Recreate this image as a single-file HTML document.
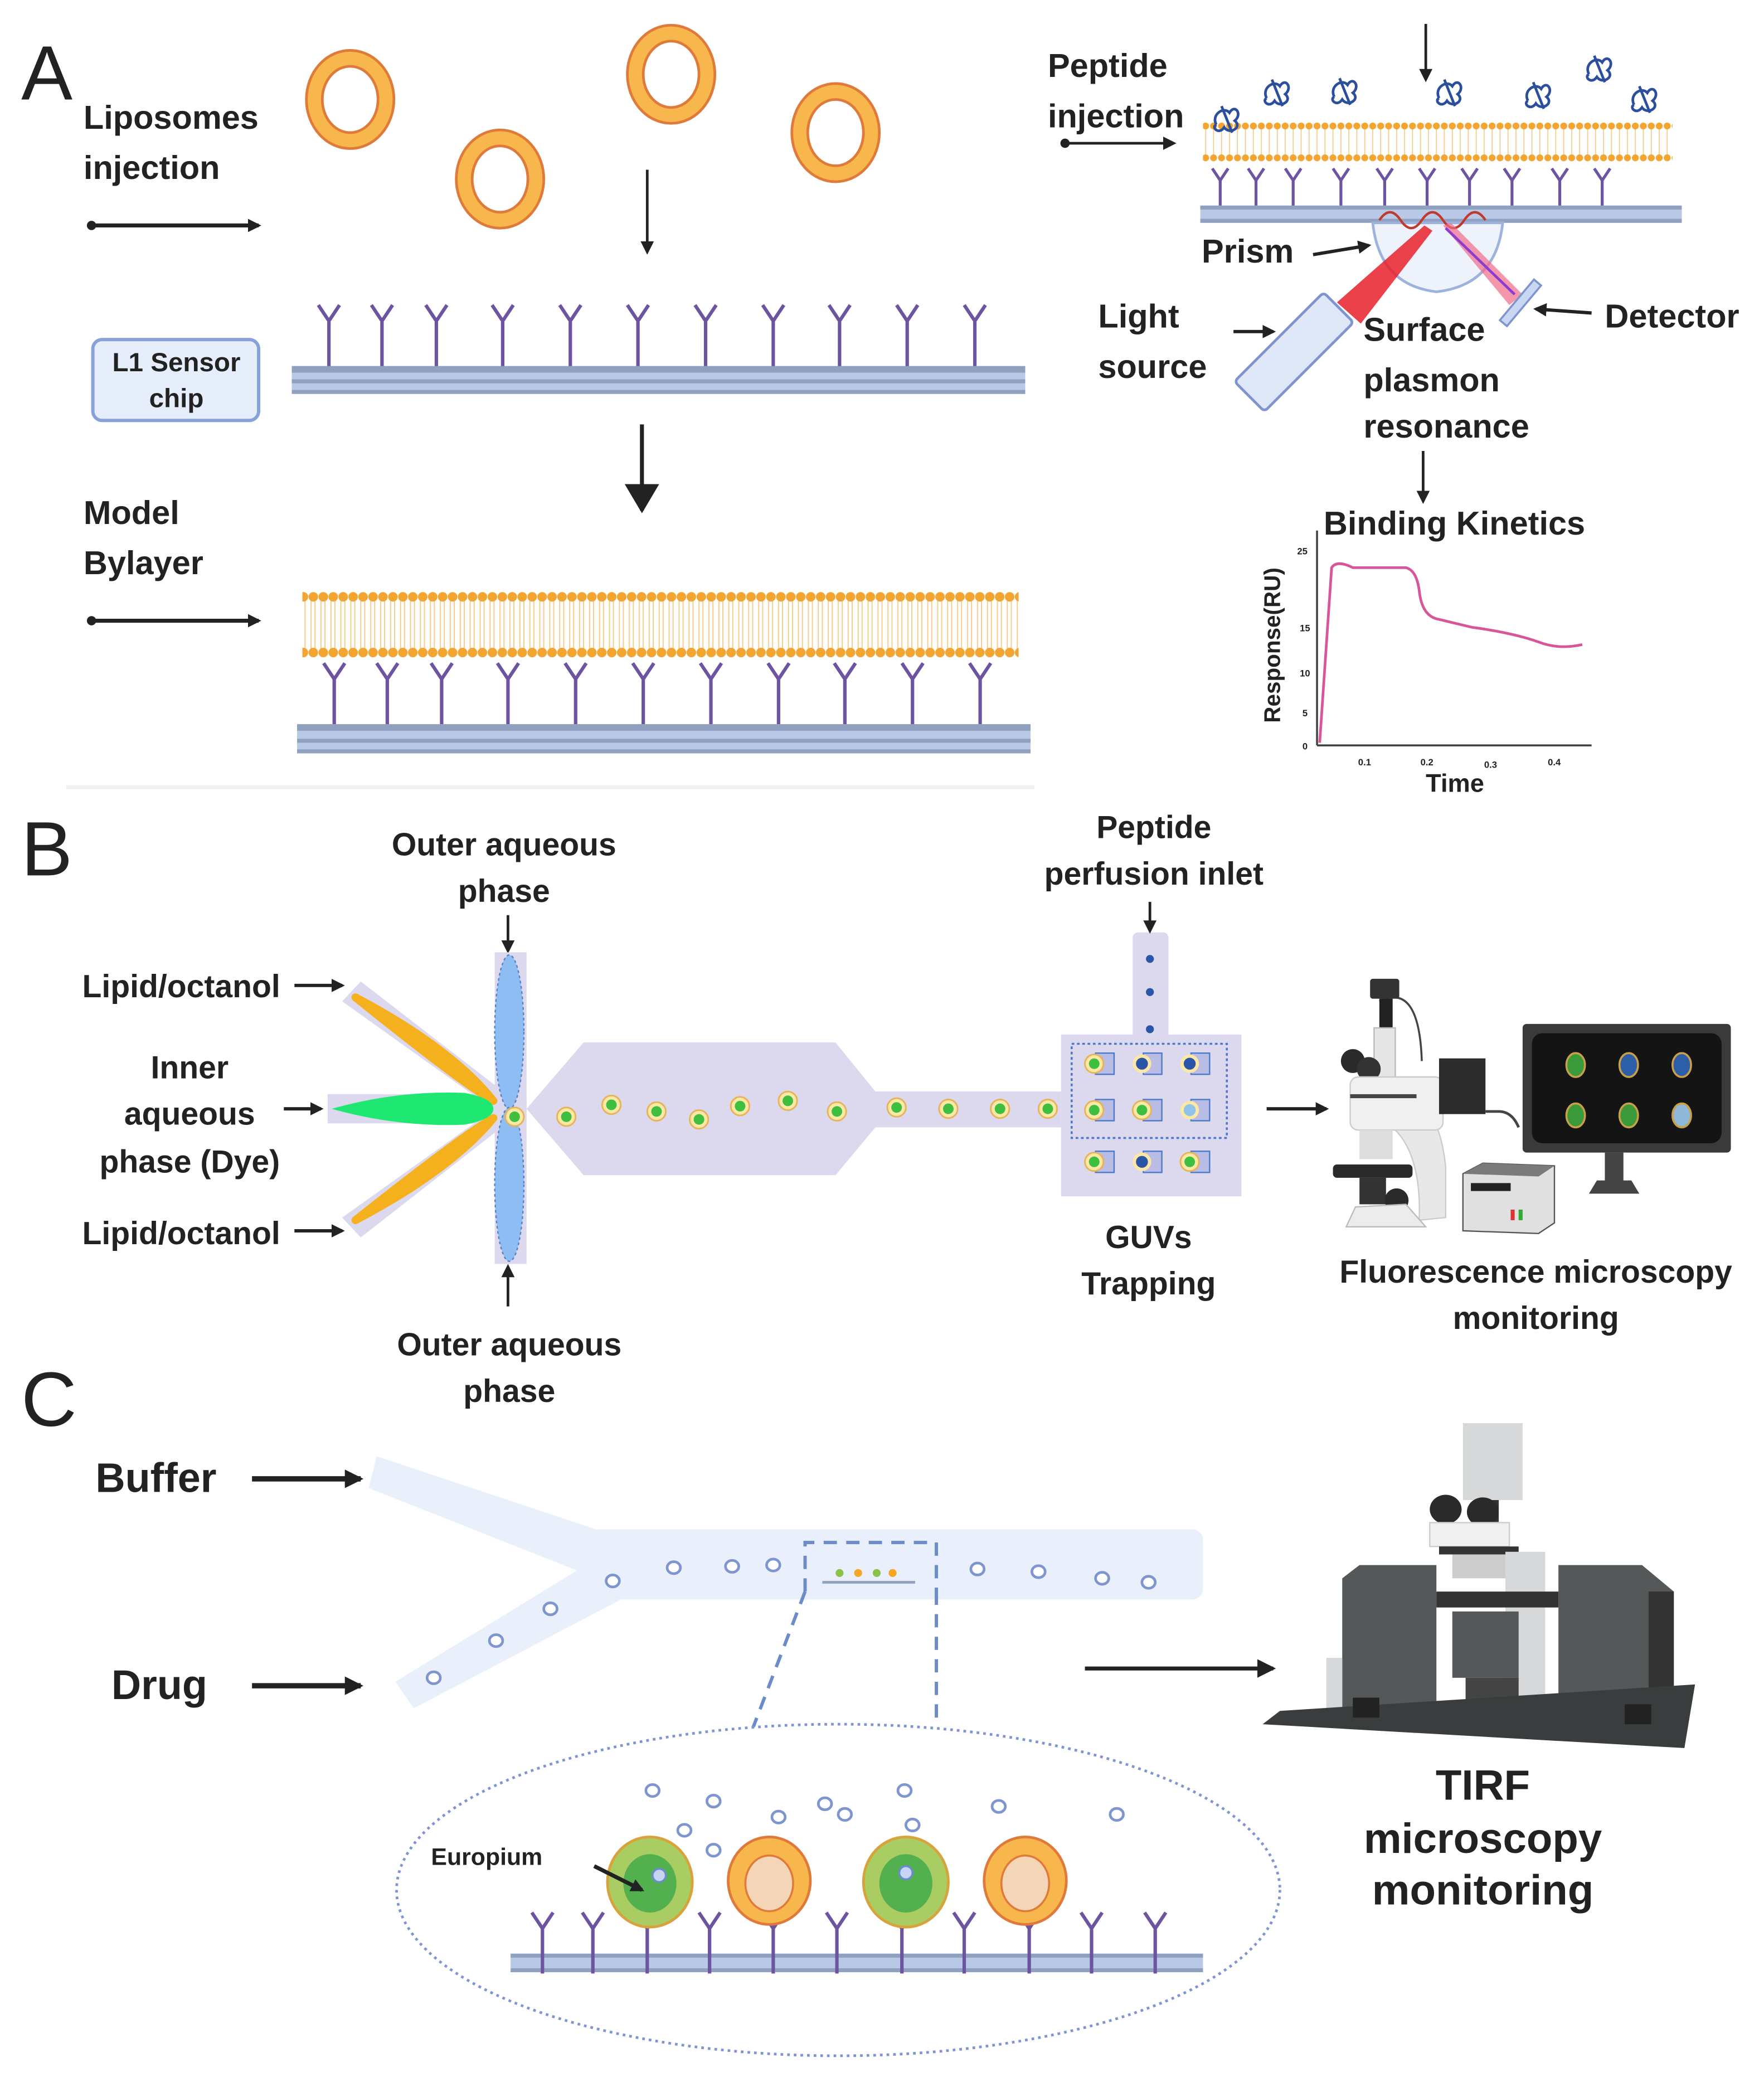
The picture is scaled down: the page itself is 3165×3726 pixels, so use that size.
<!DOCTYPE html>
<html><head><meta charset="utf-8"><style>
html,body{margin:0;padding:0;background:#fff}
svg{display:block}
text{font-family:"Liberation Sans",sans-serif;font-weight:bold;fill:#222}
</style></head><body>
<svg width="3165" height="3726" viewBox="0 0 1330 1566" preserveAspectRatio="none" xmlns="http://www.w3.org/2000/svg">
<defs>
<marker id="ah" markerWidth="10" markerHeight="10" refX="8" refY="5" orient="auto" markerUnits="userSpaceOnUse"><path d="M0,0 L10,5 L0,10 z" fill="#222"/></marker>
<marker id="ah2" markerWidth="14" markerHeight="14" refX="12" refY="7" orient="auto" markerUnits="userSpaceOnUse"><path d="M0,0 L14,7 L0,14 z" fill="#222"/></marker>
<marker id="ahb" markerWidth="22" markerHeight="26" refX="20" refY="13" orient="auto" markerUnits="userSpaceOnUse"><path d="M0,0 L22,13 L0,26 z" fill="#222"/></marker>
<marker id="dot" markerWidth="8" markerHeight="8" refX="4" refY="4" markerUnits="userSpaceOnUse"><circle cx="4" cy="4" r="3.5" fill="#222"/></marker>
<pattern id="lip" x="0" y="445" width="7.5" height="52" patternUnits="userSpaceOnUse">
<line x1="2" y1="6" x2="2" y2="46" stroke="#f5c98a" stroke-width="0.8"/><line x1="5" y1="6" x2="5" y2="46" stroke="#f5c98a" stroke-width="0.8"/>
<circle cx="3.75" cy="5" r="3.6" fill="#f2a531"/><circle cx="3.75" cy="47" r="3.6" fill="#f2a531"/></pattern>
<pattern id="lip2" x="0" y="92" width="6" height="30" patternUnits="userSpaceOnUse">
<line x1="3" y1="4" x2="3" y2="26" stroke="#f5c98a" stroke-width="0.7"/>
<circle cx="3" cy="3" r="2.6" fill="#f2a531"/><circle cx="3" cy="27" r="2.6" fill="#f2a531"/></pattern>
<g id="ab"><path d="M0,12 L0,46 M-8,0 L0,12 L8,0" stroke="#6d54a0" stroke-width="2.6" fill="none"/></g>
<g id="ab2"><path d="M0,9 L0,29 M-6,0 L0,9 L6,0" stroke="#6d54a0" stroke-width="2.2" fill="none"/></g>
<g id="ring"><ellipse cx="0" cy="0" rx="33" ry="37" fill="#f7b74d" stroke="#e07a3a" stroke-width="2"/><ellipse cx="0" cy="0" rx="21" ry="25" fill="#fff" stroke="#e07a3a" stroke-width="2"/></g>
<g id="guv"><circle r="7" fill="#fbe7a6" stroke="#e6b455" stroke-width="1.2"/><circle r="4" fill="#3fbf3f"/></g>
<g id="sc"><ellipse rx="5" ry="4.5" fill="#fff" stroke="#7f95d0" stroke-width="2"/></g>
<g id="pep"><path d="M-8,6 C-12,-2 -2,-8 2,-3 C6,-10 12,-2 6,3 C12,8 2,14 -2,8 C-6,14 -12,8 -8,6 M-4,-8 L4,12" stroke="#2b4f9c" stroke-width="2" fill="none"/></g>
</defs>

<!-- ========== PANEL A ========== -->
<text x="16" y="75" style="font-weight:normal;font-size:58px">A</text>
<text x="63" y="97" font-size="25">Liposomes</text>
<text x="63" y="135" font-size="25">injection</text>
<line x1="69" y1="170" x2="195" y2="170" stroke="#222" stroke-width="3" marker-start="url(#dot)" marker-end="url(#ah)"/>
<use href="#ring" x="264" y="75"/><use href="#ring" x="377" y="135"/><use href="#ring" x="506" y="56"/><use href="#ring" x="630" y="100"/>
<line x1="488" y1="128" x2="488" y2="190" stroke="#222" stroke-width="2" marker-end="url(#ah)"/>
<rect x="70" y="256" width="125" height="61" rx="7" fill="#e6eefb" stroke="#86a2d8" stroke-width="2.5"/>
<text x="133" y="280" font-size="20" text-anchor="middle">L1 Sensor</text>
<text x="133" y="307" font-size="20" text-anchor="middle">chip</text>
<rect x="220" y="276" width="553" height="21" fill="#b8c8e6"/><rect x="220" y="276" width="553" height="5" fill="#8fa1bf"/><rect x="220" y="286" width="553" height="3" fill="#8fa1bf"/><rect x="220" y="294" width="553" height="3" fill="#8fa1bf"/>
<g transform="translate(0,230)"><use href="#ab" x="248"/><use href="#ab" x="288"/><use href="#ab" x="329"/><use href="#ab" x="379"/><use href="#ab" x="430"/><use href="#ab" x="481"/><use href="#ab" x="532"/><use href="#ab" x="583"/><use href="#ab" x="633"/><use href="#ab" x="684"/><use href="#ab" x="735"/></g>
<line x1="484" y1="320" x2="484" y2="385" stroke="#222" stroke-width="3" marker-end="url(#ahb)"/>
<text x="63" y="395" font-size="25">Model</text>
<text x="63" y="433" font-size="25">Bylayer</text>
<line x1="69" y1="468" x2="195" y2="468" stroke="#222" stroke-width="3" marker-start="url(#dot)" marker-end="url(#ah)"/>
<rect x="228" y="445" width="540" height="52" fill="url(#lip)"/>
<g transform="translate(0,500)"><use href="#ab" x="252"/><use href="#ab" x="292"/><use href="#ab" x="333"/><use href="#ab" x="383"/><use href="#ab" x="434"/><use href="#ab" x="485"/><use href="#ab" x="536"/><use href="#ab" x="587"/><use href="#ab" x="637"/><use href="#ab" x="688"/><use href="#ab" x="739"/></g>
<rect x="224" y="546" width="553" height="22" fill="#b8c8e6"/><rect x="224" y="546" width="553" height="5" fill="#8fa1bf"/><rect x="224" y="557" width="553" height="3" fill="#8fa1bf"/><rect x="224" y="565" width="553" height="3" fill="#8fa1bf"/>
<rect x="50" y="592" width="730" height="3" fill="#f0f0f0"/>

<!-- SPR -->
<text x="790" y="58" font-size="25">Peptide</text>
<text x="790" y="96" font-size="25">injection</text>
<line x1="803" y1="108" x2="885" y2="108" stroke="#222" stroke-width="2" marker-start="url(#dot)" marker-end="url(#ah)"/>
<line x1="1075" y1="18" x2="1075" y2="60" stroke="#222" stroke-width="2" marker-end="url(#ah)"/>
<rect x="907" y="92" width="354" height="30" fill="url(#lip2)"/>
<use href="#pep" x="925" y="88"/><use href="#pep" x="963" y="68"/><use href="#pep" x="1014" y="67"/><use href="#pep" x="1093" y="68"/><use href="#pep" x="1160" y="70"/><use href="#pep" x="1206" y="50"/><use href="#pep" x="1240" y="73"/>
<g transform="translate(0,127)"><use href="#ab2" x="920"/><use href="#ab2" x="947"/><use href="#ab2" x="975"/><use href="#ab2" x="1011"/><use href="#ab2" x="1044"/><use href="#ab2" x="1076"/><use href="#ab2" x="1108"/><use href="#ab2" x="1140"/><use href="#ab2" x="1176"/><use href="#ab2" x="1208"/></g>
<rect x="905" y="155" width="363" height="13" fill="#b8c8e6"/><rect x="905" y="155" width="363" height="3" fill="#8fa1bf"/><rect x="905" y="165" width="363" height="3" fill="#8fa1bf"/>
<path d="M1035,168 Q1040,215 1083,220 Q1128,215 1133,168 Z" fill="#eef3fb" stroke="#9db3de" stroke-width="2"/>
<path d="M1040,166 q8,-12 16,0 q8,12 16,0 q8,-12 16,0 q8,12 16,0 q8,-12 16,0" stroke="#c0392b" stroke-width="1.8" fill="none"/>
<polygon points="1008,228 1026,244 1080,174 1074,170" fill="#e8202a" opacity="0.85"/>
<polygon points="1088,170 1094,168 1148,222 1138,230" fill="#f06b8a" opacity="0.7"/>
<line x1="1090" y1="172" x2="1142" y2="222" stroke="#8e3bd0" stroke-width="2"/>
<rect x="1143" y="208" width="7" height="40" fill="#c9d7f2" stroke="#7f95d0" stroke-width="1.5" transform="rotate(40 1146 228)"/>
<rect x="960" y="218" width="32" height="95" rx="3" fill="#dfe8f8" stroke="#7f95d0" stroke-width="2" transform="rotate(45 976 265)"/>
<text x="906" y="198" font-size="25">Prism</text>
<line x1="990" y1="192" x2="1032" y2="185" stroke="#222" stroke-width="2.5" marker-end="url(#ah)"/>
<text x="828" y="247" font-size="25">Light</text>
<text x="828" y="285" font-size="25">source</text>
<line x1="930" y1="250" x2="960" y2="250" stroke="#222" stroke-width="2.5" marker-end="url(#ah)"/>
<text x="1210" y="247" font-size="25">Detector</text>
<line x1="1200" y1="236" x2="1158" y2="233" stroke="#222" stroke-width="2.5" marker-end="url(#ah)"/>
<text x="1028" y="257" font-size="25">Surface</text>
<text x="1028" y="295" font-size="25">plasmon</text>
<text x="1028" y="330" font-size="25">resonance</text>
<line x1="1073" y1="340" x2="1073" y2="378" stroke="#222" stroke-width="2" marker-end="url(#ah)"/>
<text x="998" y="403" font-size="25">Binding Kinetics</text>
<line x1="993" y1="400" x2="993" y2="562" stroke="#444" stroke-width="1.5"/>
<line x1="993" y1="562" x2="1200" y2="562" stroke="#444" stroke-width="1.5"/>
<path d="M995,560 L1004,428 Q1008,422 1020,428 L1060,428 Q1068,430 1070,445 Q1072,465 1085,467 L1110,473 Q1140,477 1160,484 Q1175,490 1193,486" stroke="#d9559a" stroke-width="2" fill="none"/>
<text x="965" y="545" font-size="17" transform="rotate(-90 965 545)">Response(RU)</text>
<text x="1075" y="597" font-size="19">Time</text>
<g style="font-size:7px;font-weight:normal" fill="#444"><text x="978" y="418">25</text><text x="980" y="476">15</text><text x="980" y="510">10</text><text x="982" y="540">5</text><text x="982" y="565">0</text><text x="1024" y="577">0.1</text><text x="1071" y="577">0.2</text><text x="1119" y="579">0.3</text><text x="1167" y="577">0.4</text></g>

<!-- ========== PANEL B ========== -->
<text x="16" y="660" style="font-weight:normal;font-size:58px">B</text>
<text x="380" y="645" font-size="24" text-anchor="middle">Outer aqueous</text>
<text x="380" y="680" font-size="24" text-anchor="middle">phase</text>
<line x1="383" y1="690" x2="383" y2="717" stroke="#222" stroke-width="2" marker-end="url(#ah)"/>
<polygon points="258,755 272,740 382,825 370,835" fill="#dcd8ee"/>
<polygon points="258,918 272,933 382,847 370,838" fill="#dcd8ee"/>
<rect x="247" y="825" width="150" height="22" fill="#dcd8ee"/>
<rect x="373" y="718" width="24" height="235" fill="#dcd8ee"/>
<path d="M268,752 Q340,790 372,830 Q350,818 268,752 Z" fill="#f5b11d" stroke="#f5b11d" stroke-width="6" stroke-linejoin="round"/>
<path d="M268,920 Q340,882 372,843 Q350,855 268,920 Z" fill="#f5b11d" stroke="#f5b11d" stroke-width="6" stroke-linejoin="round"/>
<path d="M250,836 Q300,822 350,824 Q372,828 372,836 Q372,844 350,848 Q300,850 250,836 Z" fill="#1ee872"/>
<ellipse cx="384" cy="778" rx="11" ry="58" fill="#8dbdf2" stroke="#5a80c0" stroke-width="1" stroke-dasharray="2 2"/>
<ellipse cx="384" cy="893" rx="11" ry="58" fill="#8dbdf2" stroke="#5a80c0" stroke-width="1" stroke-dasharray="2 2"/>
<polygon points="397,836 440,786 630,786 660,823 800,823 800,850 660,850 630,886 440,886" fill="#dcd8ee"/>
<rect x="854" y="703" width="27" height="80" rx="4" fill="#dcd8ee"/>
<rect x="800" y="780" width="136" height="122" fill="#dcd8ee"/>
<rect x="808" y="787" width="117" height="71" fill="none" stroke="#4c79c9" stroke-width="1.5" stroke-dasharray="2 2"/>
<use href="#guv" x="388" y="842"/><use href="#guv" x="427" y="842"/><use href="#guv" x="461" y="833"/><use href="#guv" x="495" y="838"/><use href="#guv" x="527" y="844"/><use href="#guv" x="558" y="834"/><use href="#guv" x="594" y="830"/><use href="#guv" x="631" y="838"/><use href="#guv" x="676" y="835"/><use href="#guv" x="715" y="836"/><use href="#guv" x="754" y="836"/><use href="#guv" x="790" y="836"/>
<g>
<rect x="826" y="794" width="14" height="16" fill="#b9bde6" stroke="#4c79c9"/><use href="#guv" x="825" y="802"/>
<rect x="862" y="794" width="14" height="16" fill="#b9bde6" stroke="#4c79c9"/><circle cx="861" cy="802" r="7" fill="#fbe7a6"/><circle cx="861" cy="802" r="4.5" fill="#2b56a8"/>
<rect x="898" y="794" width="14" height="16" fill="#b9bde6" stroke="#4c79c9"/><circle cx="897" cy="802" r="7" fill="#fbe7a6"/><circle cx="897" cy="802" r="4.5" fill="#2b56a8"/>
<rect x="826" y="829" width="14" height="16" fill="#b9bde6" stroke="#4c79c9"/><use href="#guv" x="825" y="837"/>
<rect x="862" y="829" width="14" height="16" fill="#b9bde6" stroke="#4c79c9"/><use href="#guv" x="861" y="837"/>
<rect x="898" y="829" width="14" height="16" fill="#b9bde6" stroke="#4c79c9"/><circle cx="897" cy="837" r="7" fill="#fbe7a6"/><circle cx="897" cy="837" r="4.5" fill="#8fc4e8"/>
<rect x="826" y="868" width="14" height="16" fill="#b9bde6" stroke="#4c79c9"/><use href="#guv" x="825" y="876"/>
<rect x="862" y="868" width="14" height="16" fill="#b9bde6" stroke="#4c79c9"/><circle cx="861" cy="876" r="7" fill="#fbe7a6"/><circle cx="861" cy="876" r="4.5" fill="#2b56a8"/>
<rect x="898" y="868" width="14" height="16" fill="#b9bde6" stroke="#4c79c9"/><use href="#guv" x="897" y="876"/>
<circle cx="867" cy="723" r="3" fill="#2b56a8"/><circle cx="867" cy="748" r="3" fill="#2b56a8"/><circle cx="867" cy="776" r="3" fill="#2b56a8"/>
</g>
<text x="62" y="752" font-size="24">Lipid/octanol</text>
<line x1="222" y1="743" x2="258" y2="743" stroke="#222" stroke-width="2.5" marker-end="url(#ah)"/>
<text x="62" y="938" font-size="24">Lipid/octanol</text>
<line x1="222" y1="928" x2="258" y2="928" stroke="#222" stroke-width="2.5" marker-end="url(#ah)"/>
<text x="143" y="813" font-size="24" text-anchor="middle">Inner</text>
<text x="143" y="848" font-size="24" text-anchor="middle">aqueous</text>
<text x="143" y="884" font-size="24" text-anchor="middle">phase (Dye)</text>
<line x1="214" y1="836" x2="242" y2="836" stroke="#222" stroke-width="2.5" marker-end="url(#ah)"/>
<text x="870" y="632" font-size="24" text-anchor="middle">Peptide</text>
<text x="870" y="667" font-size="24" text-anchor="middle">perfusion inlet</text>
<line x1="867" y1="680" x2="867" y2="702" stroke="#222" stroke-width="2" marker-end="url(#ah)"/>
<text x="866" y="941" font-size="24" text-anchor="middle">GUVs</text>
<text x="866" y="976" font-size="24" text-anchor="middle">Trapping</text>
<line x1="955" y1="836" x2="1000" y2="836" stroke="#222" stroke-width="2.5" marker-end="url(#ah)"/>
<!-- microscope -->
<g>
<path d="M1040,755 Q1070,740 1072,800" stroke="#444" stroke-width="1.5" fill="none"/>
<rect x="1033" y="738" width="22" height="15" rx="2" fill="#333"/>
<rect x="1040" y="753" width="10" height="22" fill="#222"/>
<rect x="1036" y="775" width="16" height="42" fill="#e6e6e6" stroke="#bbb"/>
<circle cx="1020" cy="800" r="9" fill="#2a2a2a"/><circle cx="1032" cy="806" r="9" fill="#333"/>
<path d="M1055,820 Q1085,830 1090,880 L1090,918 L1070,920 Q1072,870 1050,850 Z" fill="#e8e8e8" stroke="#ccc"/>
<rect x="1018" y="812" width="70" height="40" rx="6" fill="#f0f0f0" stroke="#ccc"/>
<rect x="1018" y="825" width="50" height="3" fill="#444"/>
<rect x="1085" y="798" width="35" height="42" fill="#2c2c2c"/>
<rect x="1025" y="852" width="25" height="22" fill="#ddd"/>
<rect x="1005" y="878" width="60" height="10" rx="3" fill="#2a2a2a"/>
<rect x="1025" y="888" width="20" height="20" fill="#333"/><circle cx="1053" cy="905" r="9" fill="#2a2a2a"/>
<path d="M1022,910 L1060,908 L1075,925 L1015,925 Z" fill="#ececec" stroke="#bbb"/>
<path d="M1120,838 L1130,838 Q1140,838 1145,850" stroke="#444" stroke-width="2" fill="none"/>
<rect x="1148" y="772" width="157" height="97" rx="3" fill="#3a3a3a"/>
<rect x="1155" y="779" width="143" height="83" rx="8" fill="#141414"/>
<rect x="1210" y="869" width="14" height="22" fill="#444"/><path d="M1198,900 L1236,900 L1230,890 L1204,890 Z" fill="#444"/>
<g><ellipse cx="1188" cy="803" rx="7" ry="9" fill="#3a9a3a" stroke="#c9a048" stroke-width="1.5"/><ellipse cx="1228" cy="803" rx="7" ry="9" fill="#2d5fa8" stroke="#c9a048" stroke-width="1.5"/><ellipse cx="1268" cy="803" rx="7" ry="9" fill="#2d5fa8" stroke="#c9a048" stroke-width="1.5"/>
<ellipse cx="1188" cy="841" rx="7" ry="9" fill="#3a9a3a" stroke="#c9a048" stroke-width="1.5"/><ellipse cx="1228" cy="841" rx="7" ry="9" fill="#3a9a3a" stroke="#c9a048" stroke-width="1.5"/><ellipse cx="1268" cy="841" rx="7" ry="9" fill="#8fb8d8" stroke="#c9a048" stroke-width="1.5"/></g>
<path d="M1103,885 L1118,877 L1172,879 L1172,922 L1160,930 L1103,928 Z" fill="#e0e0e0" stroke="#555"/>
<path d="M1103,885 L1118,877 L1172,879 L1160,887 Z" fill="#7a7a7a"/>
<rect x="1109" y="892" width="30" height="6" fill="#222"/><rect x="1139" y="912" width="3" height="8" fill="#d33"/><rect x="1145" y="912" width="3" height="8" fill="#3a3"/>
</g>
<text x="1158" y="967" font-size="24" text-anchor="middle">Fluorescence microscopy</text>
<text x="1158" y="1002" font-size="24" text-anchor="middle">monitoring</text>

<!-- ========== PANEL C ========== -->
<text x="16" y="1075" style="font-weight:normal;font-size:58px">C</text>
<text x="384" y="1022" font-size="24" text-anchor="middle">Outer aqueous</text>
<text x="384" y="1057" font-size="24" text-anchor="middle">phase</text>
<line x1="383" y1="985" x2="383" y2="955" stroke="#222" stroke-width="2" marker-end="url(#ah)"/>
<text x="72" y="1125" font-size="31" style="font-weight:900">Buffer</text>
<line x1="190" y1="1115" x2="272" y2="1115" stroke="#222" stroke-width="4" marker-end="url(#ah2)"/>
<text x="84" y="1281" font-size="31" style="font-weight:900">Drug</text>
<line x1="190" y1="1271" x2="272" y2="1271" stroke="#222" stroke-width="4" marker-end="url(#ah2)"/>
<g fill="#eaf0fb">
<polygon points="284,1098 278,1122 450,1190 470,1160"/>
<polygon points="298,1268 312,1288 470,1205 445,1178"/>
<rect x="440" y="1153" width="467" height="53" rx="8"/>
</g>
<use href="#sc" x="462" y="1192"/><use href="#sc" x="508" y="1182"/><use href="#sc" x="552" y="1181"/><use href="#sc" x="583" y="1180"/><use href="#sc" x="737" y="1183"/><use href="#sc" x="783" y="1185"/><use href="#sc" x="831" y="1190"/><use href="#sc" x="866" y="1193"/><use href="#sc" x="415" y="1213"/><use href="#sc" x="374" y="1237"/><use href="#sc" x="327" y="1265"/>
<path d="M607,1200 L607,1163 L706,1163 L706,1200 M607,1200 L568,1302 M706,1200 L706,1302" stroke="#6b8cc8" stroke-width="2.5" fill="none" stroke-dasharray="10 7"/>
<g><circle cx="633" cy="1186" r="3" fill="#8bc34a"/><circle cx="647" cy="1186" r="3" fill="#f5a623"/><circle cx="661" cy="1186" r="3" fill="#8bc34a"/><circle cx="673" cy="1186" r="3" fill="#f5a623"/><line x1="620" y1="1193" x2="690" y2="1193" stroke="#8fa1bf" stroke-width="2"/></g>
<ellipse cx="632" cy="1425" rx="333" ry="125" fill="none" stroke="#7f95d0" stroke-width="2" stroke-dasharray="2 3"/>
<rect x="385" y="1473" width="522" height="14" fill="#b8c8e6"/><rect x="385" y="1473" width="522" height="3" fill="#8fa1bf"/><rect x="385" y="1484" width="522" height="3" fill="#8fa1bf"/>
<g transform="translate(0,1442)"><use href="#ab" x="409"/><use href="#ab" x="447"/><use href="#ab" x="488"/><use href="#ab" x="535"/><use href="#ab" x="583"/><use href="#ab" x="631"/><use href="#ab" x="680"/><use href="#ab" x="727"/><use href="#ab" x="776"/><use href="#ab" x="823"/><use href="#ab" x="871"/></g>
<g>
<ellipse cx="490" cy="1419" rx="32" ry="34" fill="#a9cc63" stroke="#d9a23b" stroke-width="2"/><ellipse cx="490" cy="1420" rx="20" ry="22" fill="#52b04f"/><circle cx="497" cy="1414" r="5" fill="#c7d5f5" stroke="#6b8cc8" stroke-width="1.5"/>
<ellipse cx="580" cy="1418" rx="31" ry="33" fill="#f7b74d" stroke="#e07a3a" stroke-width="2"/><ellipse cx="580" cy="1420" rx="18" ry="21" fill="#f5d5b8" stroke="#e07a3a" stroke-width="1.5"/>
<ellipse cx="683" cy="1419" rx="32" ry="34" fill="#a9cc63" stroke="#d9a23b" stroke-width="2"/><ellipse cx="683" cy="1420" rx="20" ry="22" fill="#52b04f"/><circle cx="683" cy="1412" r="5" fill="#c7d5f5" stroke="#6b8cc8" stroke-width="1.5"/>
<ellipse cx="773" cy="1418" rx="31" ry="33" fill="#f7b74d" stroke="#e07a3a" stroke-width="2"/><ellipse cx="773" cy="1420" rx="18" ry="21" fill="#f5d5b8" stroke="#e07a3a" stroke-width="1.5"/>
</g>
<use href="#sc" x="492" y="1350"/><use href="#sc" x="538" y="1358"/><use href="#sc" x="587" y="1370"/><use href="#sc" x="622" y="1360"/><use href="#sc" x="637" y="1368"/><use href="#sc" x="682" y="1350"/><use href="#sc" x="688" y="1376"/><use href="#sc" x="753" y="1362"/><use href="#sc" x="842" y="1368"/><use href="#sc" x="516" y="1380"/><use href="#sc" x="538" y="1395"/>
<text x="325" y="1406" font-size="18">Europium</text>
<line x1="448" y1="1407" x2="484" y2="1425" stroke="#222" stroke-width="3" marker-end="url(#ah)"/>
<line x1="818" y1="1258" x2="960" y2="1258" stroke="#222" stroke-width="3" marker-end="url(#ah2)"/>
<!-- TIRF microscope -->
<g>
<rect x="1103" y="1073" width="45" height="58" fill="#d6d8da"/>
<rect x="1118" y="1131" width="12" height="20" fill="#333"/>
<ellipse cx="1090" cy="1138" rx="12" ry="11" fill="#2a2a2a"/><ellipse cx="1118" cy="1140" rx="12" ry="11" fill="#2a2a2a"/>
<rect x="1078" y="1148" width="60" height="18" fill="#f0f0f0" stroke="#ccc"/>
<rect x="1085" y="1166" width="60" height="6" fill="#333"/>
<rect x="1095" y="1172" width="40" height="18" fill="#ccc"/>
<rect x="1135" y="1170" width="30" height="130" fill="#d6d8da"/>
<polygon points="1012,1190 1025,1180 1083,1180 1083,1295 1012,1295" fill="#555859"/>
<polygon points="1175,1180 1238,1180 1262,1200 1262,1303 1175,1303" fill="#555859"/>
<rect x="1243" y="1200" width="19" height="103" fill="#333"/>
<rect x="1083" y="1200" width="92" height="12" fill="#333"/>
<rect x="1095" y="1215" width="50" height="50" fill="#555859"/>
<rect x="1105" y="1265" width="40" height="40" fill="#444"/>
<rect x="1000" y="1250" width="12" height="50" fill="#d6d8da"/>
<polygon points="965,1290 1278,1270 1270,1318 952,1300" fill="#3a3d3e"/>
<rect x="1020" y="1280" width="20" height="15" fill="#222"/><rect x="1225" y="1285" width="20" height="15" fill="#222"/>
</g>
<text x="1118" y="1357" font-size="32" style="font-weight:900" text-anchor="middle">TIRF</text>
<text x="1118" y="1397" font-size="32" style="font-weight:900" text-anchor="middle">microscopy</text>
<text x="1118" y="1436" font-size="32" style="font-weight:900" text-anchor="middle">monitoring</text>
</svg>
</body></html>
